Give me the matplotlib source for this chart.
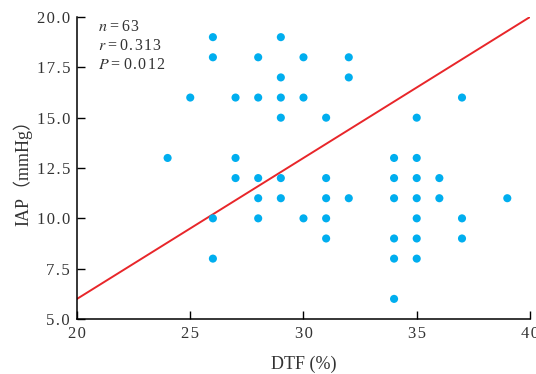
import numpy as np
import matplotlib
matplotlib.use("Agg")
import matplotlib.pyplot as plt

plt.rcParams['font.family'] = ['Liberation Serif', 'Noto Sans CJK SC']
plt.rcParams['mathtext.fontset'] = 'stix'

# DTF (%) and IAP (mmHg), one entry per visible point
dtf = [24, 25,
       26, 26, 26, 26,
       27, 27, 27,
       28, 28, 28, 28, 28,
       29, 29, 29, 29, 29, 29,
       30, 30, 30,
       31, 31, 31, 31, 31,
       32, 32, 32,
       34, 34, 34, 34, 34, 34,
       35, 35, 35, 35, 35, 35, 35,
       36, 36,
       37, 37, 37,
       39]
iap = [13, 16,
       19, 18, 10, 8,
       16, 13, 12,
       18, 16, 12, 11, 10,
       19, 17, 16, 15, 12, 11,
       18, 16, 10,
       15, 12, 11, 10, 9,
       18, 17, 11,
       13, 12, 11, 9, 8, 6,
       15, 13, 12, 11, 10, 9, 8,
       12, 11,
       16, 10, 9,
       11]

# fitted line as drawn
fit_x = [20, 40]
fit_intercept = 6.0
fit_slope = 0.7

stats = ["n", "r", "P"]
stat_vals = ["63", "0.313", "0.012"]

xticks = [20, 25, 30, 35, 40]
yticks = [5.0, 7.5, 10.0, 12.5, 15.0, 17.5, 20.0]


def spaced(s):
    # the original typesetting has loose letter spacing
    return "\u200a".join(s)


fig = plt.figure(figsize=(5.36, 3.74), dpi=100)
ax = fig.add_axes([0.1437, 0.147, 0.845, 0.8075])

ax.scatter(dtf, iap, s=34, color='#00AEEF', edgecolors='none', zorder=3)
fx = np.array(fit_x, dtype=float)
ax.plot(fx, fit_intercept + fit_slope * (fx - fit_x[0]), color='#E8262A', lw=1.4, zorder=2)

ax.set_xlim(20, 40)
ax.set_ylim(5, 20)
ax.set_xticks(xticks)
ax.set_xticklabels([spaced(str(v)) for v in xticks])
ax.set_yticks(yticks)
ax.set_yticklabels([spaced(f"{v:.1f}") for v in yticks])
ax.spines['top'].set_visible(False)
ax.spines['right'].set_visible(False)
for s in ['left', 'bottom']:
    ax.spines[s].set_linewidth(1.1)
ax.tick_params(direction='in', length=6, width=1.0, labelsize=12, colors='black',
               labelcolor='#333333', pad=5)

ax.set_xlabel("DTF (%)", fontsize=13, color='#333333', labelpad=10)
ax.set_ylabel("IAP（mmHg）", fontsize=13, color='#333333', labelpad=3)

for i, (name, val) in enumerate(zip(stats, stat_vals)):
    ax.text(0.047, 0.995 - i * 0.064, f"${name}$\u2009=\u2009" + spaced(val),
            transform=ax.transAxes, fontsize=11.5, color='#333333', va='top', ha='left')

fig.savefig("out.png", dpi=100)
